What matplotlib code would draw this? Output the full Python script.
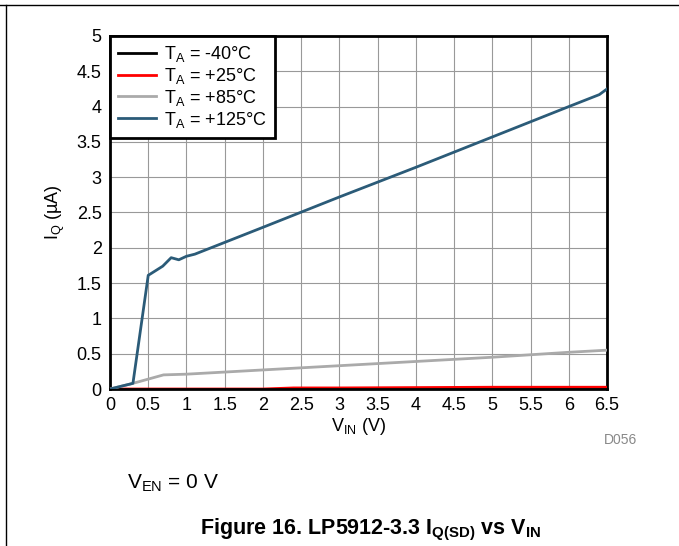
import matplotlib
matplotlib.use("Agg")
import matplotlib.pyplot as plt
from matplotlib.lines import Line2D

plt.rcParams['font.family'] = ['Liberation Sans', 'DejaVu Sans']
plt.rcParams['mathtext.fontset'] = 'custom'
plt.rcParams['mathtext.rm'] = 'Liberation Sans'
plt.rcParams['mathtext.it'] = 'Liberation Sans:italic'
plt.rcParams['mathtext.bf'] = 'Liberation Sans:bold'

# Data (VIN in V, IQ in uA)
vin_m40 = [0.0, 1.0, 2.0, 3.0, 4.0, 5.0, 6.0, 6.5]
iq_m40 = [0.0, 0.0, 0.0, 0.0, 0.0, 0.0, 0.0, 0.0]

vin_25 = [0.0, 1.0, 2.0, 2.4, 3.0, 4.0, 5.0, 6.0, 6.5]
iq_25 = [0.0, 0.0, 0.0, 0.015, 0.015, 0.02, 0.025, 0.025, 0.025]

vin_85 = [0.0, 0.3, 0.7, 1.0, 2.0, 3.0, 4.0, 5.0, 6.0, 6.5]
iq_85 = [0.0, 0.08, 0.2, 0.21, 0.27, 0.33, 0.39, 0.45, 0.52, 0.55]

vin_125 = [0.0, 0.3, 0.5, 0.69, 0.8, 0.9, 1.0, 1.11, 2.0, 3.0, 4.0, 5.0, 6.0, 6.4, 6.5]
iq_125 = [0.0, 0.08, 1.61, 1.74, 1.86, 1.83, 1.88, 1.91, 2.29, 2.72, 3.14, 3.57, 4.0, 4.17, 4.25]

labels = [r'$\mathrm{T_A}$ = -40°C', r'$\mathrm{T_A}$ = +25°C',
          r'$\mathrm{T_A}$ = +85°C', r'$\mathrm{T_A}$ = +125°C']
colors = ['#000000', '#ff0000', '#aaaaaa', '#2b5b78']

xticks = [0, 0.5, 1, 1.5, 2, 2.5, 3, 3.5, 4, 4.5, 5, 5.5, 6, 6.5]
xticklabels = ['0', '0.5', '1', '1.5', '2', '2.5', '3', '3.5', '4', '4.5', '5', '5.5', '6', '6.5']
yticks = [0, 0.5, 1, 1.5, 2, 2.5, 3, 3.5, 4, 4.5, 5]
yticklabels = ['0', '0.5', '1', '1.5', '2', '2.5', '3', '3.5', '4', '4.5', '5']

fs = 13

fig = plt.figure(figsize=(6.79, 5.46), dpi=100)
ax = fig.add_axes([110/679, 1-389/546, (607-110)/679, (389-36)/546])

l1, = ax.plot(vin_m40, iq_m40, color=colors[0], lw=2, label=labels[0], zorder=4)
l2, = ax.plot(vin_25, iq_25, color=colors[1], lw=2, label=labels[1], zorder=3)
l3, = ax.plot(vin_85, iq_85, color=colors[2], lw=2, label=labels[2], zorder=5)
l4, = ax.plot(vin_125, iq_125, color=colors[3], lw=2, label=labels[3], zorder=6)

ax.set_xlim(0, 6.5)
ax.set_ylim(0, 5)
ax.set_xticks(xticks)
ax.set_xticklabels(xticklabels)
ax.set_yticks(yticks)
ax.set_yticklabels(yticklabels)
ax.tick_params(length=0, labelsize=fs, pad=6)
ax.grid(True, color='#999999', lw=0.8)
ax.set_axisbelow(True)
for s in ax.spines.values():
    s.set_linewidth(2)
    s.set_color('black')

ax.set_xlabel(r'$\mathrm{V_{IN}}$ (V)', fontsize=fs, labelpad=1)
ax.set_ylabel(r'$\mathrm{I_Q}$ (µA)', fontsize=fs, labelpad=7)

leg = ax.legend(handles=[l1, l2, l3, l4], loc='upper left', borderaxespad=0, fancybox=False,
                edgecolor='black', framealpha=1, fontsize=fs,
                handlelength=2.1, handletextpad=0.45, labelspacing=0.1, borderpad=0.45)
leg.get_frame().set_linewidth(2)
leg.set_zorder(10)

fig.text(604/679, 1-440/546, 'D056', color='#888888', fontsize=10, ha='left', va='center')
fig.text(127/679, 1-483/546, r'$\mathrm{V_{EN}}$ = 0 V', fontsize=15, ha='left', va='center')
fig.text(371/679, 1-530/546, r'Figure 16. LP5912-3.3 I$_{\mathbf{Q(SD)}}$ vs V$_{\mathbf{IN}}$',
         fontsize=15.5, fontweight='bold', ha='center', va='center')

# page frame lines
fig.add_artist(Line2D([0, 1], [1-5/546, 1-5/546], color='black', lw=1, transform=fig.transFigure))
fig.add_artist(Line2D([6/679, 6/679], [0, 1-5/546], color='black', lw=1, transform=fig.transFigure))

fig.savefig('out.png', dpi=100)
